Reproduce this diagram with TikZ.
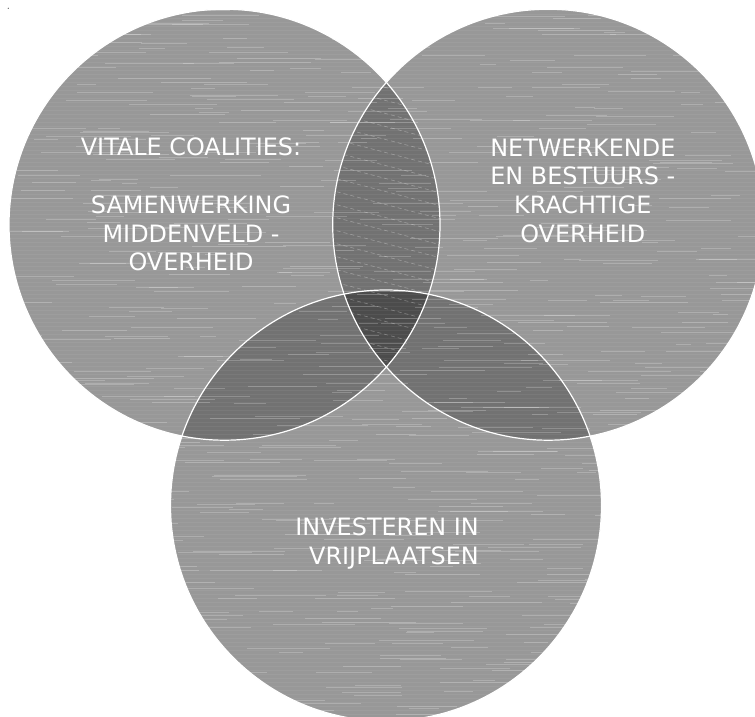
\documentclass[tikz,border=0pt]{standalone}
\usepackage{fontspec}
\setmainfont{DejaVu Sans}
\definecolor{basegray}{RGB}{152,152,152}
\definecolor{pairgray}{RGB}{114,114,114}
\definecolor{triplegray}{RGB}{76,76,76}
\begin{document}
\begin{tikzpicture}[x=1pt,y=-1pt,
  label text/.style={text=white,inner sep=0pt,font=\fontsize{23.9}{28.7}\selectfont},
  streak/.style={white,opacity=0.22,line width=0.9pt},
  faint/.style={white,opacity=0.05,line width=0.6pt},
  slant/.style={white,opacity=0.3,line width=0.6pt,dash pattern=on 4pt off 3pt},
  rim/.style={white,line width=1.2pt}]
\useasboundingbox (0,0) rectangle (755,717);
\clip (0,0) rectangle (755,717);
\def\R{215.5pt}
\coordinate (A) at (224.5,224.7);
\coordinate (B) at (548.2,224.7);
\coordinate (C) at (386,505.5);
% base discs
\fill[basegray] (A) circle (\R) (B) circle (\R) (C) circle (\R);
% pairwise overlaps
\begin{scope}
  \clip (A) circle (\R);
  \fill[pairgray] (B) circle (\R);
  \fill[pairgray] (C) circle (\R);
\end{scope}
\begin{scope}
  \clip (B) circle (\R);
  \fill[pairgray] (C) circle (\R);
\end{scope}
\begin{scope}
  \clip (A) circle (\R);
  \clip (B) circle (\R);
  \fill[triplegray] (C) circle (\R);
\end{scope}
% texture
\begin{scope}
  \clip (A) circle (\R) (B) circle (\R) (C) circle (\R);
  \pgfmathsetseed{7}
  \foreach \y in {6,10,...,720} {
    \draw[faint] (0,\y) -- (755,\y);
    \foreach \k in {1,...,4} {
      \pgfmathsetmacro{\xa}{rnd*780-20}
      \pgfmathsetmacro{\len}{15+rnd*80}
      \pgfmathsetmacro{\dy}{rnd*3}
      \draw[streak] (\xa,\y+\dy) -- ++(\len,0);
    }
  }
\end{scope}
% slanted dashed streaks in the upper lens
\begin{scope}
  \clip (A) circle (\R);
  \clip (B) circle (\R);
  \foreach \y in {60,73,...,380} {
    \draw[slant] (330,\y) -- (445,\y+30);
  }
\end{scope}
% rims
\draw[rim] (A) circle (\R);
\draw[rim] (B) circle (\R);
\draw[rim] (C) circle (\R);
% tiny dot
\fill[black!70] (8.3,8.3) circle (0.6pt);
% texts
\node[label text,align=center,anchor=base] (t1) at (191,270.7)
  {VITALE COALITIES:\\ \\SAMENWERKING\\MIDDENVELD -\\OVERHEID};
\node[label text,align=center,anchor=base] (t2) at (582.8,242.3)
  {NETWERKENDE\\EN BESTUURS -\\KRACHTIGE\\OVERHEID};
\node[label text,align=right,anchor=base east] (t3) at (479,564)
  {INVESTEREN IN\\VRIJPLAATSEN};
\end{tikzpicture}
\end{document}
